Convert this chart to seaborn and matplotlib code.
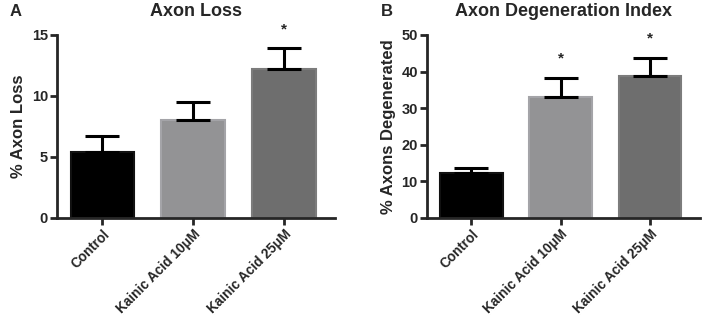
import matplotlib
matplotlib.use("Agg")
import matplotlib.pyplot as plt
import seaborn as sns
import pandas as pd

categories = ["Control", "Kainic Acid 10\u03bcM", "Kainic Acid 25\u03bcM"]
colors = ["#000000", "#929296", "#6e6e6e"]
edges = ["#111111", "#a4a4a8", "#7c7c7c"]

loss_mean = [5.43, 8.03, 12.19]
loss_sem = [1.29, 1.45, 1.77]
loss_stars = ["", "", "*"]

degen_mean = [12.3, 33.0, 38.8]
degen_sem = [1.4, 5.3, 5.0]
degen_stars = ["", "*", "*"]

sns.set_style("ticks")
plt.rcParams["font.family"] = ["Liberation Sans", "DejaVu Sans"]
plt.rcParams["font.weight"] = "bold"

fig = plt.figure(figsize=(7.02, 3.15), dpi=100)
ax_a = fig.add_axes([0.0812, 0.308, 0.396, 0.581])
ax_b = fig.add_axes([0.608, 0.308, 0.389, 0.581])


def panel(ax, means, sems, stars, ymax, step, title, ylabel, letter, star_off):
    df = pd.DataFrame({"group": categories, "value": means})
    sns.barplot(data=df, x="group", y="value", hue="group", palette=colors,
                width=0.7, errorbar=None, legend=False, ax=ax)
    for p, ec in zip(ax.patches, edges):
        p.set_edgecolor(ec)
        p.set_linewidth(1.5)
    ax.errorbar(range(3), means, yerr=[[0] * 3, sems], fmt="none",
                ecolor="black", elinewidth=2.2, capsize=12, capthick=2.2)
    for i, s in enumerate(stars):
        if s:
            ax.text(i, means[i] + sems[i] + star_off, s, ha="center",
                    va="center", fontsize=11, fontweight="bold")
    ax.set_ylim(0, ymax)
    ax.set_yticks(range(0, ymax + 1, step))
    ax.set_xlim(-0.5, 2.56)
    for sp in ["top", "right"]:
        ax.spines[sp].set_visible(False)
    for sp in ["left", "bottom"]:
        ax.spines[sp].set_linewidth(2)
    ax.tick_params(axis="both", width=2, length=5, labelsize=10.5, pad=1.5)
    ax.set_xticks(range(3))
    ax.set_xticklabels(categories, rotation=45, ha="right",
                       rotation_mode="anchor", fontweight="bold", fontsize=9.8)
    for lab in ax.get_yticklabels():
        lab.set_fontweight("bold")
    ax.set_xlabel("")
    ax.set_ylabel(ylabel, fontsize=12, fontweight="bold", labelpad=4)
    ax.set_title(title, fontsize=13, fontweight="bold", pad=14)
    ax.text(-0.17, 1.13, letter, transform=ax.transAxes, fontsize=12,
            fontweight="bold", va="center")


panel(ax_a, loss_mean, loss_sem, loss_stars, 15, 5, "Axon Loss",
      "% Axon Loss", "A", 1.5)
panel(ax_b, degen_mean, degen_sem, degen_stars, 50, 10,
      "Axon Degeneration Index", "% Axons Degenerated", "B", 5.2)

fig.savefig("out.png", dpi=100)
